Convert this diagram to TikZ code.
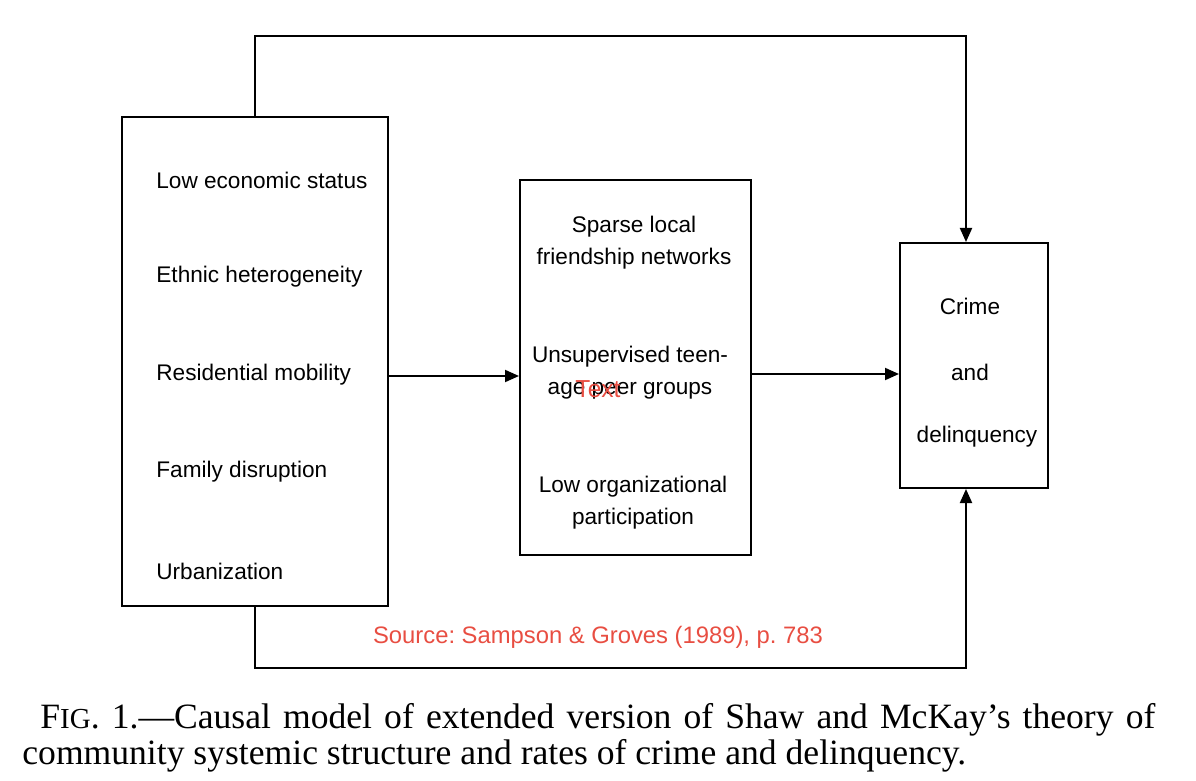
\documentclass[tikz,border=0pt]{standalone}
\usepackage{fontspec}
\setmainfont{Liberation Serif}
\newfontfamily\helv{Liberation Sans}
\usetikzlibrary{arrows.meta}
\definecolor{srcred}{RGB}{232,78,66}
\tikzset{
  box/.style={draw, line width=1pt},
  conn/.style={line width=1pt, -{Triangle[length=7pt,width=6pt]}},
  lbl/.style={font=\helv\fontsize{11.3}{16}\selectfont, inner sep=0pt},
  capt/.style={font=\fontsize{17.8}{18}\selectfont, inner sep=0pt, anchor=base west},
}
\frenchspacing
\begin{document}
\begin{tikzpicture}[x=0.5pt,y=-0.5pt]
\useasboundingbox (0,0) rectangle (1196,781);
% boxes
\node[box, minimum width=133pt, minimum height=244.5pt, inner sep=0pt] (L) at (255,361.5) {};
\node[box, minimum width=115.5pt, minimum height=187.5pt, inner sep=0pt] (M) at (635.5,367.5) {};
\node[box, minimum width=74pt, minimum height=122.5pt, inner sep=0pt] (R) at (974,365.5) {};
% left texts
\node[lbl, anchor=west] (t1) at (156,180) {Low economic status};
\node[lbl, anchor=west] (t2) at (156,277) {Ethnic heterogeneity};
\node[lbl, anchor=west] (t3) at (156,375) {Residential mobility};
\node[lbl, anchor=west] (t4) at (156,472) {Family disruption};
\node[lbl, anchor=west] (t5) at (156,571) {Urbanization};
% middle texts
\node[lbl, align=center] (m1) at (634,243) {Sparse local\\friendship networks};
\node[lbl, align=center] (m2) at (630,373) {Unsupervised teen-\\age peer groups};
\node[lbl, align=center] (m3) at (633,503) {Low organizational\\participation};
\node[lbl, text=srcred, font=\helv\fontsize{12.3}{14}\selectfont] (red) at (598,389) {Text};
% right texts
\node[lbl] (r1) at (970,306) {Crime};
\node[lbl] (r2) at (970,372) {and};
\node[lbl] (r3) at (977,437) {delinquency};
% connectors
\coordinate (a1) at (L.east |- 0,376);
\coordinate (a2) at (M.west |- 0,376);
\draw[conn] (a1) -- (a2);
\coordinate (b1) at (M.east |- 0,374);
\coordinate (b2) at (R.west |- 0,374);
\draw[conn] (b1) -- (b2);
\coordinate (tl) at (255,36);
\coordinate (tr) at (966,36);
\draw[conn] (L.north) -- (tl) -- (tr) -- (R.north -| tr);
\coordinate (bl) at (255,668);
\coordinate (br) at (966,668);
\draw[conn] (L.south) -- (bl) -- (br) -- (R.south -| br);
% source
\node[lbl, text=srcred, font=\helv\fontsize{11.9}{13}\selectfont] (src) at (598,637) {Source: Sampson \& Groves (1989), p. 783};
% caption
\node[capt] (c1) at (40,728) {\makebox[557.5pt][s]{F{\fontsize{14.5}{16}\selectfont IG}. 1.---Causal model of extended version of Shaw and McKay’s theory of}};
\node[capt] (c2) at (22,764) {community systemic structure and rates of crime and delinquency.};
\end{tikzpicture}
\end{document}
